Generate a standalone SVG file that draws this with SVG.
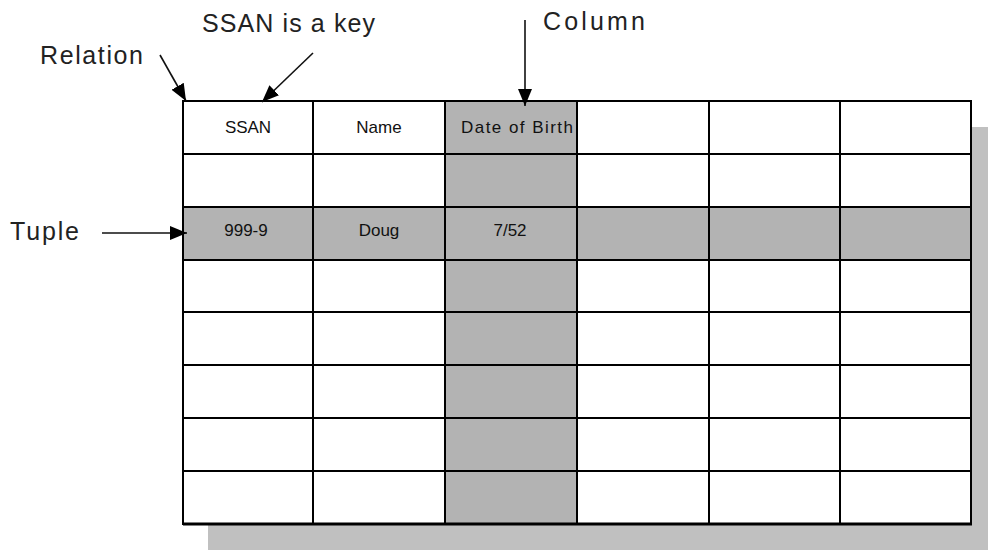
<svg xmlns="http://www.w3.org/2000/svg" width="988" height="550" viewBox="0 0 988 550">
  <style>
    .label { font-family: "Liberation Sans", Arial, sans-serif; font-size: 25px; fill: #222; }
    .cell { font-family: "Liberation Sans", Arial, sans-serif; font-size: 17px; fill: #111; text-anchor: middle; }
    .grid { stroke: #000; stroke-width: 2; fill: none; }
    .hl { fill: #b3b3b3; }
    .conn { stroke: #111; stroke-width: 1.6; fill: none; marker-end: url(#head); }
  </style>
  <defs>
    <marker id="head" markerUnits="userSpaceOnUse" markerWidth="18" markerHeight="16" refX="17" refY="7" orient="auto">
      <path d="M0,0 L17,7 L0,14 Z" fill="#000"/>
    </marker>
  </defs>

  <rect x="0" y="0" width="988" height="550" fill="#fff"/>

  <!-- drop shadow behind the table -->
  <rect x="208" y="127" width="790" height="440" fill="#c0c0c0"/>

  <g id="relation-table">
    <rect x="183" y="101" width="788" height="423" fill="#fff"/>
    <!-- highlighted column (Date of Birth) and row (tuple) -->
    <rect class="hl" x="445" y="101" width="132" height="423"/>
    <rect class="hl" x="183" y="207" width="788" height="53"/>
    <!-- horizontal rules -->
    <path class="grid" d="M183,154 H971 M183,207 H971 M183,260 H971 M183,312 H971 M183,365 H971 M183,418 H971 M183,471 H971"/>
    <!-- vertical rules -->
    <path class="grid" d="M313,101 V524 M445,101 V524 M577,101 V524 M709,101 V524 M840,101 V524"/>
    <rect class="grid" x="183" y="101" width="788" height="423"/>
    <path d="M183,524 H972" stroke="#000" stroke-width="3"/>
    <!-- header row -->
    <text class="cell" x="248" y="133" textLength="46" lengthAdjust="spacing">SSAN</text>
    <text class="cell" x="379" y="133">Name</text>
    <text class="cell" x="517" y="133" textLength="112" lengthAdjust="spacing">Date of Birth</text>
    <!-- tuple values -->
    <text class="cell" x="246" y="236">999-9</text>
    <text class="cell" x="379" y="236">Doug</text>
    <text class="cell" x="510" y="236">7/52</text>
  </g>

  <g id="label-relation">
    <text class="label" x="40" y="64" textLength="103" lengthAdjust="spacing">Relation</text>
  </g>
  <g id="label-key">
    <text class="label" x="202" y="32" textLength="173" lengthAdjust="spacing">SSAN is a key</text>
  </g>
  <g id="label-column">
    <text class="label" x="543" y="30" textLength="102" lengthAdjust="spacing">Column</text>
  </g>
  <g id="label-tuple">
    <text class="label" x="10" y="240" textLength="69" lengthAdjust="spacing">Tuple</text>
  </g>

  <g id="connectors">
    <path class="conn" d="M160,55 L186,101"/>
    <path class="conn" d="M313,53 L262,102"/>
    <path class="conn" d="M525,20 L525,106"/>
    <path class="conn" d="M102,233 L187,233"/>
  </g>
</svg>
